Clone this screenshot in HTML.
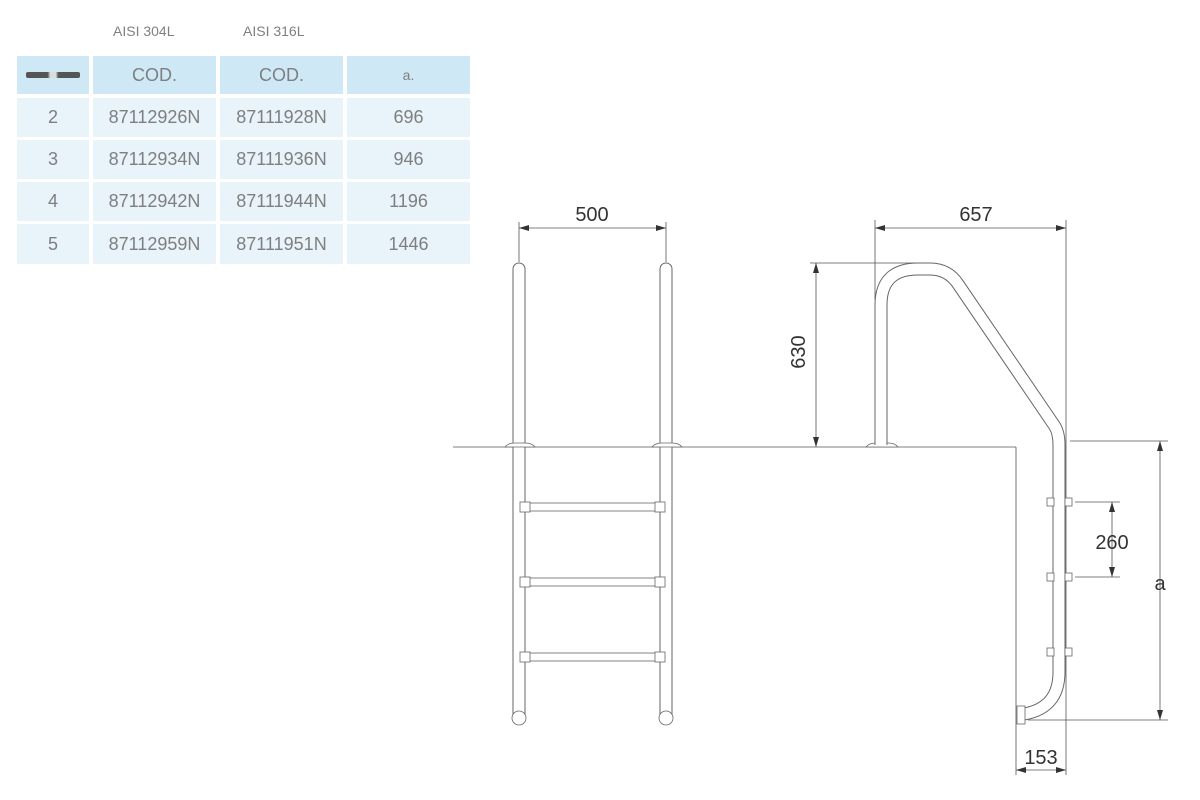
<!DOCTYPE html>
<html><head><meta charset="utf-8"><style>
html,body{margin:0;padding:0;background:#fff;width:1200px;height:800px;overflow:hidden;font-family:"Liberation Sans",sans-serif;}
.c{position:absolute;display:flex;align-items:center;justify-content:center;color:#7f7f7f;font-size:18px;}
.h{background:#cfe8f6;}
.b{background:#e8f3fa;}
.t{position:absolute;color:#808080;font-size:14px;}
</style></head><body>
<div class="t" style="left:113px;top:23px;">AISI 304L</div>
<div class="t" style="left:243px;top:23px;">AISI 316L</div>

<div class="c h" style="left:17px;top:56px;width:72px;height:38px;"><div style="width:54px;height:6px;background:linear-gradient(90deg,#555 0,#555 40%,#ddd 45%,#ddd 55%,#555 60%,#555 100%);border-radius:2px"></div></div>
<div class="c h" style="left:93px;top:56px;width:123px;height:38px;">COD.</div>
<div class="c h" style="left:220px;top:56px;width:123px;height:38px;">COD.</div>
<div class="c h" style="left:347px;top:56px;width:123px;height:38px;font-size:14px;">a.</div>

<div class="c b" style="left:17px;top:98px;width:72px;height:39px;">2</div>
<div class="c b" style="left:93px;top:98px;width:123px;height:39px;">87112926N</div>
<div class="c b" style="left:220px;top:98px;width:123px;height:39px;">87111928N</div>
<div class="c b" style="left:347px;top:98px;width:123px;height:39px;">696</div>

<div class="c b" style="left:17px;top:140px;width:72px;height:39px;">3</div>
<div class="c b" style="left:93px;top:140px;width:123px;height:39px;">87112934N</div>
<div class="c b" style="left:220px;top:140px;width:123px;height:39px;">87111936N</div>
<div class="c b" style="left:347px;top:140px;width:123px;height:39px;">946</div>

<div class="c b" style="left:17px;top:182px;width:72px;height:39px;">4</div>
<div class="c b" style="left:93px;top:182px;width:123px;height:39px;">87112942N</div>
<div class="c b" style="left:220px;top:182px;width:123px;height:39px;">87111944N</div>
<div class="c b" style="left:347px;top:182px;width:123px;height:39px;">1196</div>

<div class="c b" style="left:17px;top:224px;width:72px;height:40px;">5</div>
<div class="c b" style="left:93px;top:224px;width:123px;height:40px;">87112959N</div>
<div class="c b" style="left:220px;top:224px;width:123px;height:40px;">87111951N</div>
<div class="c b" style="left:347px;top:224px;width:123px;height:40px;">1446</div>

<svg width="1200" height="800" style="position:absolute;left:0;top:0" xmlns="http://www.w3.org/2000/svg">
<defs>
<marker id="ar" markerWidth="10" markerHeight="6" refX="10" refY="3" orient="auto-start-reverse" markerUnits="userSpaceOnUse"><path d="M0,0 L10,3 L0,6 z" fill="#333"/></marker>
</defs>
<g stroke="#555" stroke-width="0.8" fill="none">
<line x1="453" y1="447" x2="1016" y2="447"/>
<line x1="1016" y1="447" x2="1016" y2="722"/>
<line x1="1070" y1="441" x2="1168" y2="441"/>
<line x1="1028" y1="720" x2="1168" y2="720"/>
<line x1="519" y1="222" x2="519" y2="262"/>
<line x1="666" y1="222" x2="666" y2="262"/>
<line x1="519" y1="228" x2="666" y2="228" marker-start="url(#ar)" marker-end="url(#ar)"/>
<line x1="875" y1="220" x2="875" y2="300"/>
<line x1="1066" y1="220" x2="1066" y2="775"/>
<line x1="875" y1="228" x2="1066" y2="228" marker-start="url(#ar)" marker-end="url(#ar)"/>
<line x1="810" y1="263" x2="930" y2="263"/>
<line x1="816" y1="263" x2="816" y2="447" marker-start="url(#ar)" marker-end="url(#ar)"/>
<line x1="1160" y1="441" x2="1160" y2="720" marker-start="url(#ar)" marker-end="url(#ar)"/>
<line x1="1075" y1="502" x2="1120" y2="502"/>
<line x1="1075" y1="577" x2="1120" y2="577"/>
<line x1="1112" y1="502" x2="1112" y2="577" marker-start="url(#ar)" marker-end="url(#ar)"/>
<line x1="1016" y1="722" x2="1016" y2="775"/>
<line x1="1016" y1="770" x2="1066" y2="770" marker-start="url(#ar)" marker-end="url(#ar)"/>
</g>
<g fill="none" stroke-linecap="round">
<line x1="519" y1="269" x2="519" y2="716" stroke="#666" stroke-width="13"/>
<line x1="519" y1="269" x2="519" y2="716" stroke="#fff" stroke-width="11"/>
<line x1="666" y1="269" x2="666" y2="716" stroke="#666" stroke-width="13"/>
<line x1="666" y1="269" x2="666" y2="716" stroke="#fff" stroke-width="11"/>
</g>
<g fill="#fff" stroke="#666" stroke-width="0.8">
<ellipse cx="519" cy="718" rx="7" ry="7"/><ellipse cx="666" cy="718" rx="7" ry="7"/>
<rect x="524" y="503" width="137" height="8"/><rect x="520" y="502" width="10" height="10"/><rect x="655" y="502" width="10" height="10"/>
<rect x="524" y="578" width="137" height="8"/><rect x="520" y="577" width="10" height="10"/><rect x="655" y="577" width="10" height="10"/>
<rect x="524" y="653" width="137" height="8"/><rect x="520" y="652" width="10" height="10"/><rect x="655" y="652" width="10" height="10"/>
<path d="M505,447 q3,-4 10,-4 h10 q7,0 10,4 z"/><path d="M652,447 q3,-4 10,-4 h10 q7,0 10,4 z"/>
<path d="M866,447 q3,-4 10,-4 h12 q7,0 10,4 z"/>
</g>
<g fill="none" stroke-linejoin="round">
<path d="M881,445 V305 Q881,269 918,269 H930 Q948,269 958,284 L1054,425 Q1059,432 1059,445 V672 Q1059,708 1024,714" stroke="#666" stroke-width="13"/>
<path d="M881,445 V305 Q881,269 918,269 H930 Q948,269 958,284 L1054,425 Q1059,432 1059,445 V672 Q1059,708 1024,714" stroke="#fff" stroke-width="11"/>
</g>
<g fill="#fff" stroke="#666" stroke-width="0.8">
<rect x="1017" y="706" width="8" height="18"/>
<rect x="1047" y="498" width="7" height="8"/><rect x="1065" y="498" width="7" height="8"/>
<rect x="1047" y="573" width="7" height="8"/><rect x="1065" y="573" width="7" height="8"/>
<rect x="1047" y="648" width="7" height="8"/><rect x="1065" y="648" width="7" height="8"/>
</g>
<g fill="#333" font-family="Liberation Sans, sans-serif" font-size="20" text-anchor="middle">
<text x="592" y="221">500</text>
<text x="976" y="221">657</text>
<text x="1112" y="549">260</text>
<text x="1160" y="590">a</text>
<text x="1041" y="764">153</text>
<text transform="translate(805,352) rotate(-90)">630</text>
</g>
</svg>
</body></html>
